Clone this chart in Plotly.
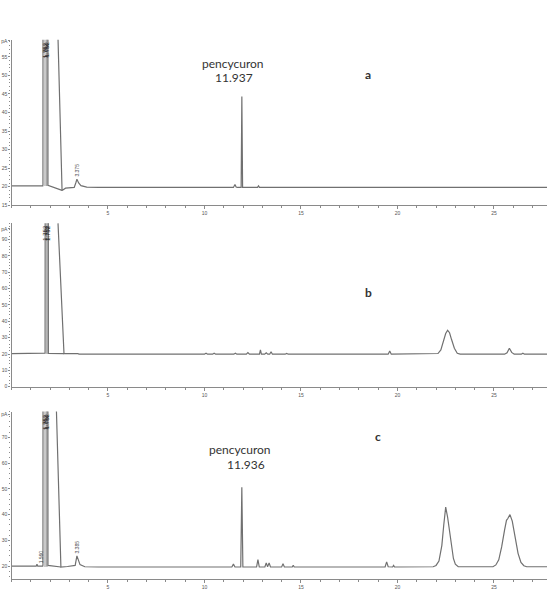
import plotly.graph_objects as go

W, H = 553, 595

# ---------------- data (time in min, signal in pA) ----------------
time_a = [0, 1.62, 1.63, 1.64, 1.88, 1.89, 2.62, None, 2.40, 2.62, 2.8, 3.25, 3.33, 3.39, 3.48, 3.6, 3.9, 4.5,
          11.5, 11.58, 11.64, 11.7, 11.90, 11.937, 11.975, 12.1, 12.75, 12.8, 12.85, 27.75]
signal_a = [20.2, 20.2, 20.5, 200, 200, 20.4, 19.0, None, 62, 19.0, 19.6, 19.8, 21.0, 22.0, 21.0, 20.3, 19.9, 19.8,
            19.8, 20.6, 19.9, 19.8, 19.8, 44.3, 19.8, 19.8, 19.8, 20.2, 19.8, 19.8]

time_b = [0, 1.73, 1.74, 1.75, 1.90, 1.91, 2.72, None, 2.41, 2.72, 3.45, 3.5,
          10.0, 10.08, 10.16, 10.42, 10.5, 10.58, 11.52, 11.6, 11.68, 12.17, 12.25, 12.33,
          12.85, 12.9, 12.95, 13.12, 13.2, 13.28, 13.38, 13.45, 13.52, 14.18, 14.26, 14.34,
          19.52, 19.6, 19.68, 21.95, 22.1, 22.25, 22.4, 22.5, 22.6, 22.7, 22.8, 22.95, 23.1, 23.25,
          25.55, 25.68, 25.8, 25.92, 26.05, 26.42, 26.5, 26.58, 27.75]
signal_b = [20.2, 20.2, 20.5, 200, 200, 20.3, 20.2, None, 100, 20.2, 20.2, 19.9,
            19.9, 20.5, 19.9, 19.9, 20.5, 19.9, 19.9, 20.5, 19.9, 19.9, 20.9, 19.9,
            19.9, 22.6, 19.9, 19.9, 20.7, 19.9, 19.9, 21.4, 19.9, 19.9, 20.4, 19.9,
            19.9, 21.8, 19.9, 19.9, 20.3, 22.5, 28, 32.5, 34.5, 33, 29, 23.5, 20.5, 19.9,
            19.9, 20.8, 23.5, 21, 19.9, 19.9, 20.5, 19.9, 19.9]

time_c = [0, 1.28, 1.32, 1.36, 1.62, 1.63, 1.64, 1.88, 1.89, 2.56, None, 2.31, 2.56, 2.9, 3.3, 3.39, 3.45, 3.55,
          3.8, 4.5, 11.42, 11.5, 11.58, 11.88, 11.936, 11.99, 12.70, 12.77, 12.84, 13.13, 13.2, 13.27,
          13.35, 13.42, 14.0, 14.07, 14.14, 14.55, 14.6, 14.65, 19.36, 19.44, 19.52, 19.75, 19.8, 19.85,
          21.85, 22.0, 22.15, 22.3, 22.4, 22.5, 22.6, 22.7, 22.8, 22.9, 23.0, 23.15,
          24.95, 25.1, 25.25, 25.4, 25.55, 25.65, 25.72, 25.83, 25.95, 26.1, 26.25, 26.4, 26.55, 26.7, 27.75]
signal_c = [20.0, 20.0, 20.8, 20.0, 20.0, 20.5, 200, 200, 20.3, 19.7, None, 85, 19.7, 19.9, 20.3, 24.0, 22.5, 20.6,
            19.8, 19.7, 19.7, 20.8, 19.7, 19.7, 50.6, 19.7, 19.7, 22.6, 19.7, 19.7, 21.3, 19.8,
            21.3, 19.7, 19.7, 21.0, 19.7, 19.7, 20.4, 19.7, 19.7, 21.7, 19.8, 19.7, 20.3, 19.7,
            19.8, 20.3, 22.0, 28.0, 36.0, 42.9, 39.0, 33.5, 28.0, 23.0, 20.8, 19.8,
            19.8, 20.5, 22.5, 27.5, 34.0, 37.8, 38.5, 40.0, 37.5, 31.0, 25.0, 21.5, 20.2, 19.8, 19.8]

# solvent bands (start, end) in min
band_a = (1.64, 1.88)
band_b = (1.75, 1.90)
band_c = (1.64, 1.88)

x_ticks = [5, 10, 15, 20, 25]
x_range = [0, 27.75]

ytick_a = [15, 20, 25, 30, 35, 40, 45, 50, 55, 59.3]
ytext_a = ["15", "20", "25", "30", "35", "40", "45", "50", "55", "pA"]
ytick_b = [0, 10, 20, 30, 40, 50, 60, 70, 80, 90, 96.5]
ytext_b = ["0", "10", "20", "30", "40", "50", "60", "70", "80", "90", "pA"]
ytick_c = [20, 30, 40, 50, 60, 70, 78.8]
ytext_c = ["20", "30", "40", "50", "60", "70", "pA"]

# ---------------- figure ----------------
LINE = "#707070"
AX = "#8a8a8a"
TICKF = dict(size=5, color="#555555", family="Liberation Sans")

fig = go.Figure()
panels = [
    ("x", "y", time_a, signal_a, band_a, 20.2),
    ("x2", "y2", time_b, signal_b, band_b, 20.2),
    ("x3", "y3", time_c, signal_c, band_c, 20.0),
]
for xa, ya, t, s, band, base in panels:
    fig.add_trace(go.Bar(x=[(band[0] + band[1]) / 2], y=[200 - base], base=[base],
                         width=[band[1] - band[0]], marker=dict(color="#c9c9c9", line=dict(width=0)),
                         xaxis=xa, yaxis=ya, showlegend=False, hoverinfo="skip"))
    fig.add_trace(go.Scatter(x=t, y=s, mode="lines", line=dict(color=LINE, width=1.2),
                             connectgaps=False, xaxis=xa, yaxis=ya, showlegend=False))
    # inner line of the band
    fig.add_trace(go.Scatter(x=[band[1] - 0.06, band[1] - 0.06], y=[base, 200], mode="lines",
                             line=dict(color="#9a9a9a", width=0.8), xaxis=xa, yaxis=ya,
                             showlegend=False))

xdom = [11.5 / W, 547 / W]
def ydom(top, bottom):
    return [1 - bottom / H, 1 - top / H]

def xaxis(anchor):
    return dict(domain=xdom, range=x_range, anchor=anchor, showgrid=False, zeroline=False,
                showline=True, linecolor=AX, linewidth=1.2, ticks="outside", ticklen=3,
                tickcolor=AX, tickwidth=1, tickvals=x_ticks, tickfont=TICKF,
                minor=dict(dtick=1, ticks="outside", ticklen=2, tickcolor=AX, tickwidth=1))

def yaxis(anchor, dom, rng, tv, tt, mdt):
    return dict(domain=dom, range=rng, anchor=anchor, showgrid=False, zeroline=False,
                showline=True, linecolor=AX, linewidth=1.2, ticks="outside", ticklen=2,
                tickcolor=AX, tickwidth=1, tickvals=tv, ticktext=tt, tickfont=TICKF,
                minor=dict(dtick=mdt, ticks="outside", ticklen=1.5, tickcolor=AX, tickwidth=0.8))

fig.update_layout(
    width=W, height=H, margin=dict(l=0, r=0, t=0, b=0),
    paper_bgcolor="white", plot_bgcolor="white", bargap=0,
    xaxis=xaxis("y"), xaxis2=xaxis("y2"), xaxis3=xaxis("y3"),
    yaxis=yaxis("x", ydom(38, 205), [15, 59.6], ytick_a, ytext_a, 1),
    yaxis2=yaxis("x2", ydom(223, 388), [0, 100], ytick_b, ytext_b, 2),
    yaxis3=yaxis("x3", ydom(413, 582), [15, 80], ytick_c, ytext_c, 2),
)

LBL = dict(family="Lato", size=12, color="#333333")
def ann(px, py, text, font=LBL):
    fig.add_annotation(x=px / W, y=1 - py / H, xref="paper", yref="paper", text=text,
                       showarrow=False, font=font, xanchor="center", yanchor="middle")

ann(233, 62, "pencycuron")
ann(234, 76, "11.937")
ann(368, 73, "<b>a</b>")
ann(368, 293, "<b>b</b>")
ann(240, 451, "pencycuron")
ann(246, 466, "11.936")
ann(378, 438, "<b>c</b>")

SMALL = dict(family="Liberation Sans", size=5, color="#444444")
# retention-time labels on small peaks
fig.add_annotation(x=3.39, y=22.3, xref="x", yref="y", text="3.375", textangle=-90, showarrow=False,
                   font=SMALL, xanchor="center", yanchor="bottom")
fig.add_annotation(x=3.39, y=24.3, xref="x3", yref="y3", text="3.385", textangle=-90, showarrow=False,
                   font=SMALL, xanchor="center", yanchor="bottom")
fig.add_annotation(x=1.55, y=20.3, xref="x3", yref="y3", text="1.560", textangle=-90, showarrow=False,
                   font=SMALL, xanchor="center", yanchor="bottom")
# crowded labels at top of solvent bands
DARK = dict(family="Liberation Sans", size=6, color="#222222")
for xa, ya, band, top in [("x", "y", band_a, 59.6), ("x2", "y2", band_b, 100), ("x3", "y3", band_c, 80)]:
    for dx in (-0.06, 0.0, 0.06):
        fig.add_annotation(x=(band[0] + band[1]) / 2 + dx, y=top, xref=xa, yref=ya, text="1.752",
                           textangle=-90, showarrow=False, font=DARK, xanchor="center", yanchor="top")

fig.write_html("out.html")
